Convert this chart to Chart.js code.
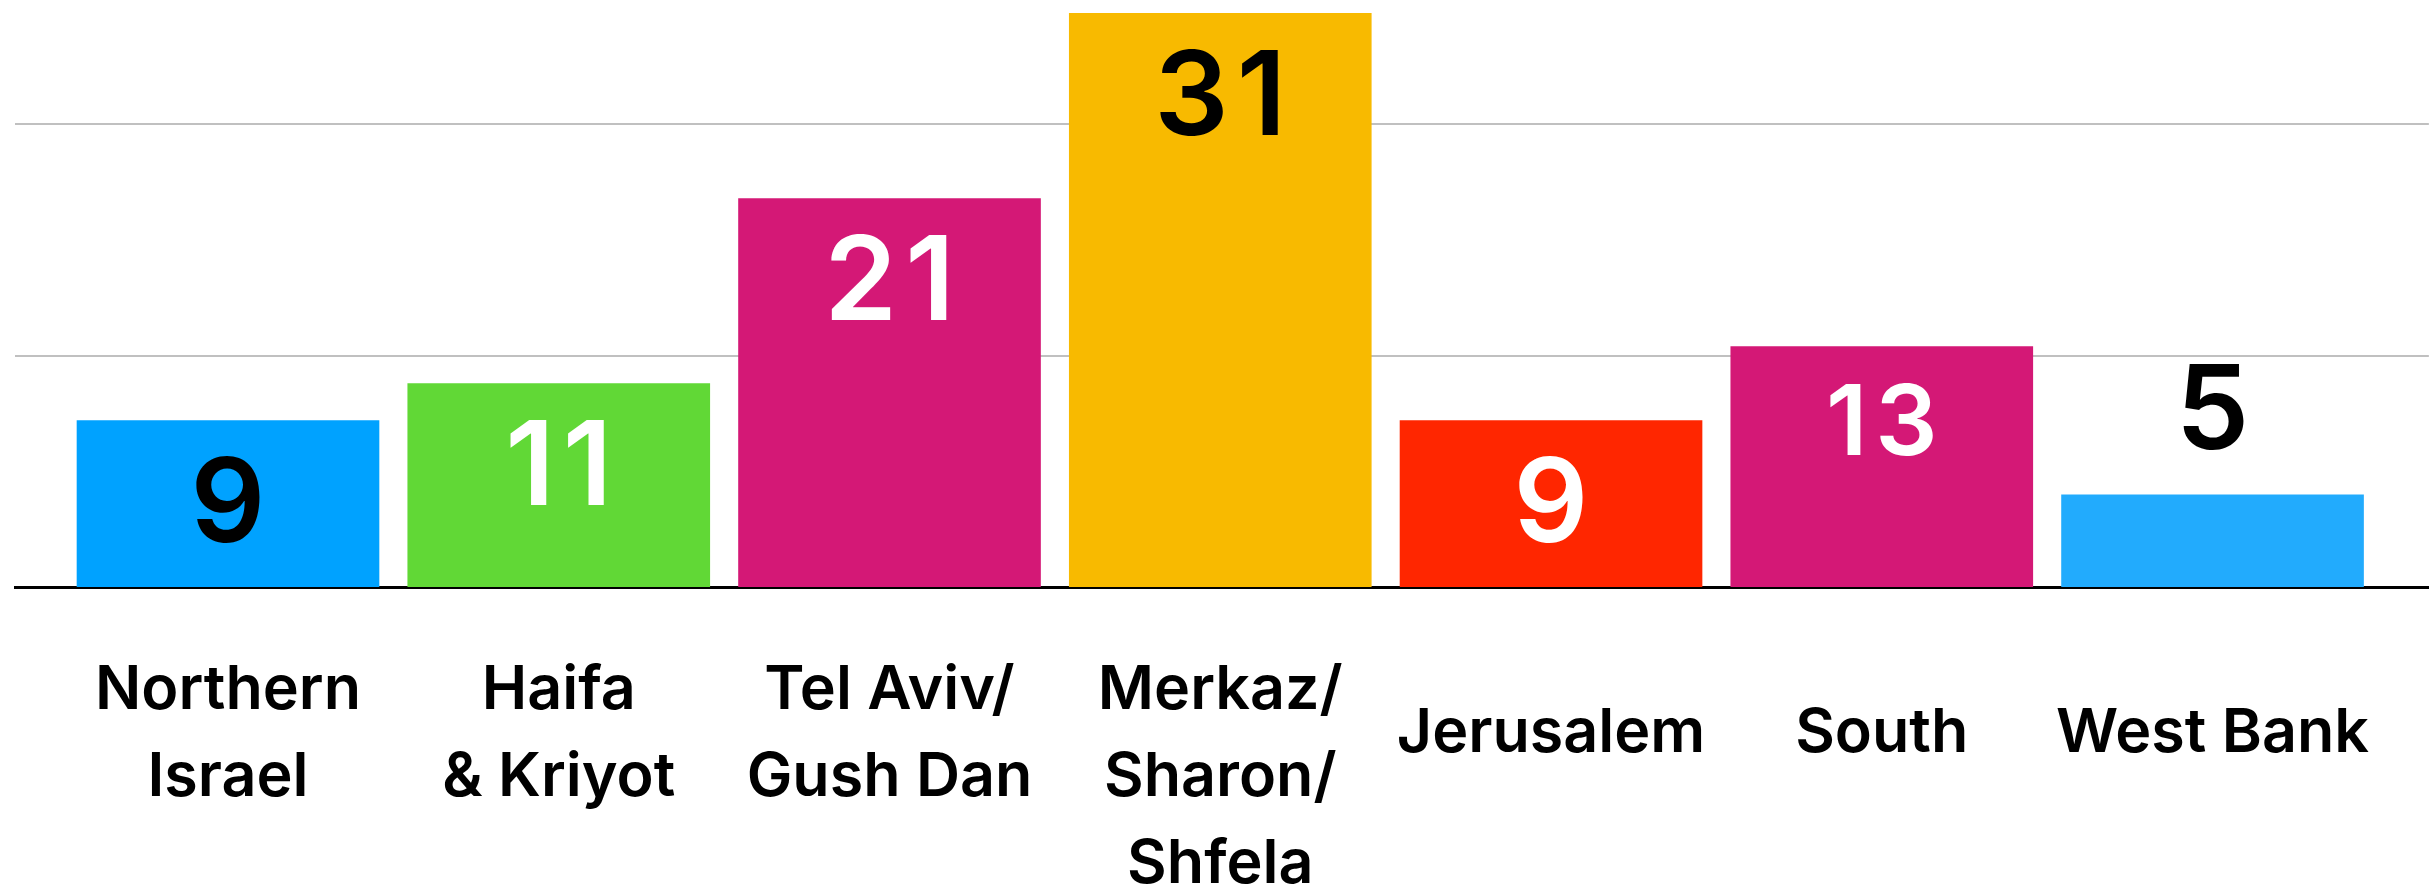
<!DOCTYPE html>
<html><head><meta charset="utf-8">
<script src="https://cdn.jsdelivr.net/npm/chart.js@4.4.1/dist/chart.umd.min.js"></script>
<style>html,body{margin:0;padding:0;background:#fff;} canvas{display:block;}</style>
</head><body>
<canvas id="c" width="2429" height="892"></canvas>
<script>
const categories = [['Northern','Israel'],['Haifa','& Kriyot'],['Tel Aviv/','Gush Dan'],['Merkaz/','Sharon/','Shfela'],['Jerusalem'],['South'],['West Bank']];
const values = [9, 11, 21, 31, 9, 13, 5];
const barColors = ['#00A2FF','#61D836','#D41876','#F8BA00','#FF2600','#D41876','#22ABFD'];
const valueLabelColors = ['#000','#fff','#fff','#000','#fff','#fff','#000'];
const valueLabelSizes = [117,117,117,117,117,98,117];
const valueLabelInside = [true,true,true,true,true,true,false];
const yGridValues = [12.5, 25];

const valueLabels = {
  id: 'valueLabels',
  afterDatasetsDraw(chart) {
    const ctx = chart.ctx;
    const meta = chart.getDatasetMeta(0);
    meta.data.forEach((bar, i) => {
      const size = valueLabelSizes[i];
      const text = String(values[i]);
      ctx.save();
      ctx.font = '600 ' + size + 'px Inter';
      const sp = 8;
      if ('letterSpacing' in ctx) ctx.letterSpacing = sp + 'px';
      ctx.fillStyle = valueLabelColors[i];
      ctx.textAlign = 'center';
      ctx.textBaseline = 'alphabetic';
      const cap = size * 0.727;
      const y = valueLabelInside[i] ? bar.y + 37 + cap : bar.y - 45;
      const shift = ('letterSpacing' in ctx) ? sp / 2 : 0;
      ctx.fillText(text, bar.x + shift, y);
      ctx.restore();
    });
  }
};

function draw() {
  new Chart(document.getElementById('c'), {
    type: 'bar',
    data: {
      labels: categories.map((_, i) => i),
      datasets: [{ data: values, backgroundColor: barColors, borderWidth: 0, categoryPercentage: 1, barPercentage: 0.915 }]
    },
    options: {
      responsive: false, animation: false, devicePixelRatio: 1,
      layout: { padding: { left: 15, right: 0, top: 0, bottom: 0 } },
      plugins: { legend: { display: false }, tooltip: { enabled: false } },
      scales: {
        x: {
          type: 'linear', min: -0.644, max: 6.654, offset: false,
          afterBuildTicks: s => { s.ticks = categories.map((_, i) => ({ value: i })); },
          afterFit: s => { s.height = 305; },
          grid: { display: false, drawTicks: false, offset: false },
          border: { display: true, color: '#000', width: 3 },
          ticks: {
            autoSkip: false, maxRotation: 0, minRotation: 0, padding: 60, color: '#000',
            callback: v => categories[v],
            font: c => ({ family: 'Inter', weight: '600', size: 61,
              lineHeight: (c.index !== undefined && categories[c.index] && categories[c.index].length === 1) ? '174px' : '87px' })
          }
        },
        y: {
          min: 0, max: 31.7,
          afterBuildTicks: s => { s.ticks = yGridValues.map(v => ({ value: v })); },
          grid: { color: '#c0c0c0', lineWidth: 2, drawTicks: false },
          border: { display: false },
          ticks: { display: false }
        }
      }
    },
    plugins: [valueLabels]
  });
}
if (document.fonts && document.fonts.load) {
  Promise.all([document.fonts.load('600 61px Inter'), document.fonts.load('600 117px Inter')]).then(draw, draw);
} else { draw(); }
</script>
</body></html>
